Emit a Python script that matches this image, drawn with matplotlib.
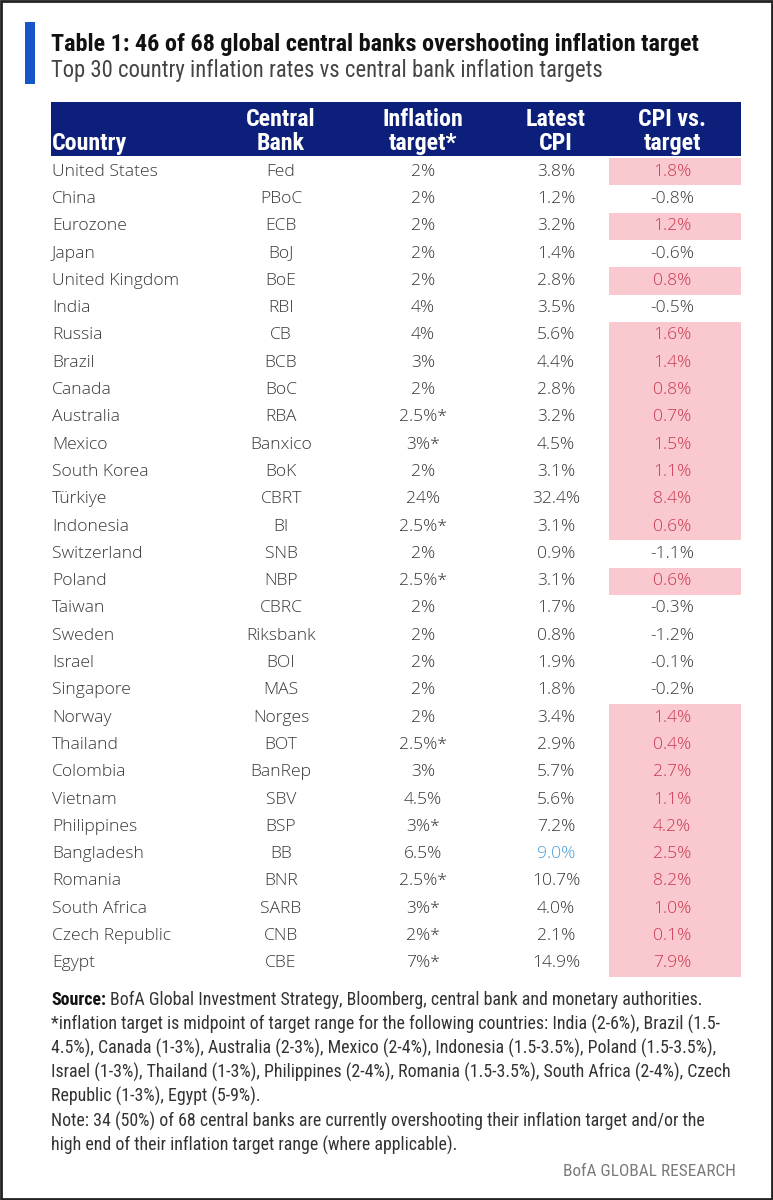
import matplotlib
matplotlib.use("Agg")
import matplotlib.pyplot as plt
from matplotlib.patches import Rectangle

# Data
countries = ["United States", "China", "Eurozone", "Japan", "United Kingdom", "India",
             "Russia", "Brazil", "Canada", "Australia", "Mexico", "South Korea", "Türkiye",
             "Indonesia", "Switzerland", "Poland", "Taiwan", "Sweden", "Israel", "Singapore",
             "Norway", "Thailand", "Colombia", "Vietnam", "Philippines", "Bangladesh",
             "Romania", "South Africa", "Czech Republic", "Egypt"]
banks = ["Fed", "PBoC", "ECB", "BoJ", "BoE", "RBI", "CB", "BCB", "BoC", "RBA", "Banxico",
         "BoK", "CBRT", "BI", "SNB", "NBP", "CBRC", "Riksbank", "BOI", "MAS", "Norges",
         "BOT", "BanRep", "SBV", "BSP", "BB", "BNR", "SARB", "CNB", "CBE"]
targets = ["2%", "2%", "2%", "2%", "2%", "4%", "4%", "3%", "2%", "2.5%*", "3%*", "2%", "24%",
           "2.5%*", "2%", "2.5%*", "2%", "2%", "2%", "2%", "2%", "2.5%*", "3%", "4.5%", "3%*",
           "6.5%", "2.5%*", "3%*", "2%*", "7%*"]
cpi = [3.8, 1.2, 3.2, 1.4, 2.8, 3.5, 5.6, 4.4, 2.8, 3.2, 4.5, 3.1, 32.4, 3.1, 0.9, 3.1,
       1.7, 0.8, 1.9, 1.8, 3.4, 2.9, 5.7, 5.6, 7.2, 9.0, 10.7, 4.0, 2.1, 14.9]
cpi_vs_target = [1.8, -0.8, 1.2, -0.6, 0.8, -0.5, 1.6, 1.4, 0.8, 0.7, 1.5, 1.1, 8.4, 0.6,
                 -1.1, 0.6, -0.3, -1.2, -0.1, -0.2, 1.4, 0.4, 2.7, 1.1, 4.2, 2.5, 8.2, 1.0,
                 0.1, 7.9]
headers = ["Country", "Central\nBank", "Inflation\ntarget*", "Latest\nCPI", "CPI vs.\ntarget"]

NAVY = "#0c1f7a"
TXT = "#383838"
PINK = "#fac8cf"
PINK_TXT = "#c63a50"
BLUE_TXT = "#4b9bd6"
GRAY = "#7a7a7a"

NARROW = ["Roboto Condensed", "Liberation Sans Narrow", "Arial Narrow", "Roboto", "DejaVu Sans"]
BODY = ["Open Sans", "DejaVu Sans"]

W, H = 773, 1200
fig = plt.figure(figsize=(W / 100, H / 100), dpi=100)
ax = fig.add_axes([0, 0, 1, 1])
ax.set_xlim(0, W)
ax.set_ylim(H, 0)
ax.axis("off")
renderer = fig.canvas.get_renderer()


def width_px(t):
    return t.get_window_extent(renderer=renderer).width


def fit(x, y, s, target, base=12, **kw):
    t = ax.text(x, y, s, fontsize=base, **kw)
    t.set_fontsize(base * target / width_px(t))
    return t


# frame
ax.add_patch(Rectangle((1, 1), W - 2, H - 2, fc="white", ec="#222222", lw=2, zorder=0))

# title block
ax.add_patch(Rectangle((25, 22), 10, 62, fc="#1656c9", lw=0))
fit(51, 51, "Table 1: 46 of 68 global central banks overshooting inflation target", 648,
    fontweight="bold", family=NARROW, color="#111111", va="baseline")
fit(51, 77, "Top 30 country inflation rates vs central bank inflation targets", 550,
    family=NARROW, color="#444444", va="baseline")

# header
x0, x1 = 51, 741
ht, hb = 102, 156
ax.add_patch(Rectangle((x0, ht), x1 - x0, hb - ht, fc=NAVY, lw=0))
col_x = [52, 281, 423, 556, 672]
for i, h in enumerate(headers):
    ax.text(col_x[i], 150, h, fontsize=17.3, fontweight="bold", family=NARROW,
            color="white", ha="left" if i == 0 else "center", va="baseline",
            linespacing=1.05)

# rows
row_h = 27.3
y_top = 158
for r in range(len(countries)):
    yc = y_top + (r + 0.5) * row_h
    if cpi_vs_target[r] > 0:
        ax.add_patch(Rectangle((609, y_top + r * row_h), x1 - 609, row_h,
                               fc=PINK, lw=0, zorder=1))
    ax.text(col_x[0], yc, countries[r], fontsize=12.6, family=BODY, color=TXT,
            fontweight="light", va="center", ha="left", zorder=2)
    ax.text(col_x[1], yc, banks[r], fontsize=12.6, family=BODY, color=TXT,
            fontweight="light", va="center", ha="center", zorder=2)
    ax.text(col_x[2], yc, targets[r], fontsize=12.6, family=BODY, color=TXT,
            fontweight="light", va="center", ha="center", zorder=2)
    ax.text(col_x[3], yc, f"{cpi[r]:.1f}%", fontsize=12.6, family=BODY,
            color=BLUE_TXT if countries[r] == "Bangladesh" else TXT,
            fontweight="light", va="center", ha="center", zorder=2)
    ax.text(col_x[4], yc, f"{cpi_vs_target[r]:.1f}%", fontsize=12.6, family=BODY,
            color=PINK_TXT if cpi_vs_target[r] > 0 else TXT,
            fontweight="light", va="center", ha="center", zorder=2)

# footnotes
notes = [
    "*inflation target is midpoint of target range for the following countries: India (2-6%), Brazil (1.5-",
    "4.5%), Canada (1-3%), Australia (2-3%), Mexico (2-4%), Indonesia (1.5-3.5%), Poland (1.5-3.5%),",
    "Israel (1-3%), Thailand (1-3%), Philippines (2-4%), Romania (1.5-3.5%), South Africa (2-4%), Czech",
    "Republic (1-3%), Egypt (5-9%).",
    "Note: 34 (50%) of 68 central banks are currently overshooting their inflation target and/or the",
    "high end of their inflation target range (where applicable).",
]
fy = 1000
probe = ax.text(0, 0, notes[2], fontsize=12, family=NARROW)
fs_note = 12 * 677 / width_px(probe)
probe.remove()

src = ax.text(51, fy, "Source:", fontsize=fs_note, fontweight="bold", family=NARROW,
              color="#111111", va="center")
sx = 51 + width_px(src) + fs_note * 0.3
ax.text(sx, fy, "BofA Global Investment Strategy, Bloomberg, central bank and monetary authorities.",
        fontsize=fs_note, family=NARROW, color="#333333", va="center")
for i, line in enumerate(notes):
    ax.text(51, fy + 24.2 * (i + 1), line, fontsize=fs_note, family=NARROW, color="#333333",
            va="center")
fit(736, 1171, "BofA GLOBAL RESEARCH", 172, family=NARROW, color=GRAY,
    ha="right", va="center")

fig.savefig("out.png", dpi=100, facecolor="white")
